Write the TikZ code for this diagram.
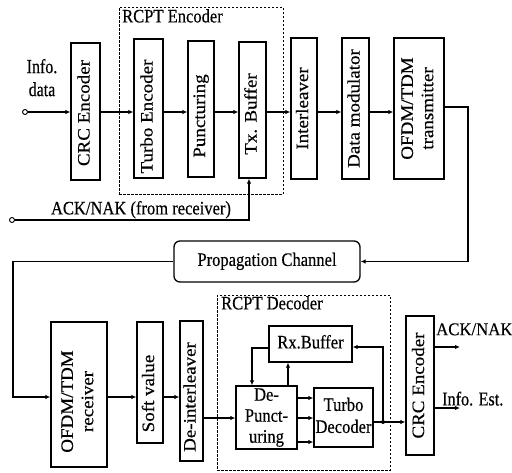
\documentclass[tikz,border=0pt]{standalone}
\usepackage{fontspec}
\setmainfont{Liberation Serif}[FakeBold=0.4]
\usetikzlibrary{arrows.meta,calc}

% condensed horizontal text, and vertical (rotated) text for the tall blocks
\newcommand{\hx}[1]{\scalebox{0.87}[1]{\begin{tabular}{@{}c@{}}#1\end{tabular}}}
\newcommand{\hs}[2]{\scalebox{#1}[1]{\begin{tabular}{@{}c@{}}#2\end{tabular}}}
% #1: extra room after the text, which moves the rotated label down by half of it
\newcommand{\vts}[2]{\scalebox{0.92}[1]{\rotatebox{90}{\begin{tabular}{@{}c@{}}#2\end{tabular}\hspace{#1}}}}
\newcommand{\vt}[1]{\vts{0pt}{#1}}

\tikzset{
  blk/.style={draw, line width=1.3pt, inner sep=0pt, align=center},
  grp/.style={draw, line width=0.9pt, dash pattern=on 2.5pt off 1.5pt, inner sep=0pt},
  link/.style={line width=1.1pt, -{Latex[length=5pt,width=4.5pt]}},
  wire/.style={line width=1.1pt},
  port/.style={circle, draw, line width=0.9pt, inner sep=0pt, minimum size=5pt, fill=white},
  lbl/.style={inner sep=0pt},
}

\begin{document}
\begin{tikzpicture}[x=1pt, y=-1pt, font=\fontsize{19}{22}\selectfont]
\useasboundingbox (0,0) rectangle (512,472);

% ---------------- transmitter chain ----------------
\node[grp, minimum width=164pt, minimum height=187pt] (encgrp) at (201,100.5) {};
\node[lbl, anchor=west] (enclbl) at (122,18) {\hx{RCPT Encoder}};

\node[blk, minimum width=29pt, minimum height=137pt] (crc)    at (85.5,111.5) {\vts{3pt}{CRC Encoder}};
\node[blk, minimum width=29pt, minimum height=139pt] (turbo)  at (148.5,108.5) {\vts{16pt}{Turbo Encoder}};
\node[blk, minimum width=26pt, minimum height=136pt] (punct)  at (201,109) {\vts{14pt}{Puncturing}};
\node[blk, minimum width=27pt, minimum height=136pt] (txbuf)  at (252.5,110) {\vts{8pt}{Tx. Buffer}};
\node[blk, minimum width=26pt, minimum height=141pt] (inter)  at (304,108.5) {\vt{Interleaver}};
\node[blk, minimum width=27pt, minimum height=141pt] (dmod)   at (355.5,108.5) {\vt{Data modulator}};
\node[blk, minimum width=50pt, minimum height=141pt] (ofdmtx) at (419,108.5) {\vt{OFDM/TDM\\transmitter}};

\node[lbl, font=\fontsize{20}{23}\selectfont] (infolbl) at (42,80) {\hs{0.8}{Info.\\data}};
\node[port] (in) at (25,112) {};
\coordinate (r1) at (0,112);
\draw[link] (in) -- (crc.west |- r1);
\draw[link] (crc.east |- r1) -- (turbo.west |- r1);
\draw[link] (turbo.east |- r1) -- (punct.west |- r1);
\draw[link] (punct.east |- r1) -- (txbuf.west |- r1);
\draw[link] (txbuf.east |- r1) -- (inter.west |- r1);
\draw[link] (inter.east |- r1) -- (dmod.west |- r1);
\draw[link] (dmod.east |- r1) -- (ofdmtx.west |- r1);

% feedback from the receiver into the transmit buffer
\node[port] (ackin) at (12,220) {};
\node[lbl] (acklbl) at (141,210) {\hx{ACK/NAK (from receiver)}};
\coordinate (a1) at (249,220);
\draw[link] (ackin) -- (a1) -- (txbuf.south -| a1);

% ---------------- channel ----------------
\node[blk, rounded corners=6pt, minimum width=186pt, minimum height=41pt] (prop) at (267,261.5) {\hx{Propagation Channel}};
\coordinate (c1) at (468,107);
\draw[link] (ofdmtx.east |- c1) -- (c1) |- (prop.east);

% ---------------- receiver chain ----------------
\node[blk, minimum width=56pt, minimum height=145pt] (ofdmrx) at (79,394.5) {\vts{14pt}{OFDM/TDM\\receiver}};
\node[blk, minimum width=26pt, minimum height=121pt] (soft)   at (150,382.5) {\vts{22pt}{Soft value}};
\node[blk, minimum width=23pt, minimum height=140pt] (deint)  at (191.5,391) {\vts{12pt}{De-interleaver}};

\coordinate (c2) at (13,397);
\draw[link] (prop.west) -| (c2) -- (ofdmrx.west |- c2);
\coordinate (r2) at (0,397);
\draw[link] (ofdmrx.east |- r2) -- (soft.west |- r2);
\draw[link] (soft.east |- r2) -- (deint.west |- r2);

\node[grp, minimum width=173pt, minimum height=175pt] (decgrp) at (303.5,382.5) {};
\node[lbl, anchor=west] (declbl) at (221,305) {\hx{RCPT Decoder}};

\node[blk, minimum width=83pt, minimum height=36pt] (rxbuf)    at (310.5,344) {\hx{Rx.Buffer}};
\node[blk, minimum width=61pt, minimum height=59pt, font=\fontsize{19}{21}\selectfont] (depunct) at (266.5,417.5) {\hx{De-\\Punct-\\uring}};
\node[blk, minimum width=59pt, minimum height=59pt] (turbodec) at (343.5,417.5) {\hx{Turbo\\Decoder}};
\node[blk, minimum width=28pt, minimum height=139pt] (crcdec)  at (420,385.5) {\vt{CRC Encoder}};

\coordinate (r3) at (0,418);
\coordinate (r4) at (0,398);
\coordinate (r5) at (0,442);
\draw[link] (deint.east |- r3) -- (depunct.west |- r3);
\draw[link] (depunct.east |- r4) -- (turbodec.west |- r4);
\draw[link] (depunct.east |- r3) -- (turbodec.west |- r3);
\draw[link] (depunct.east |- r5) -- (turbodec.west |- r5);

% buffer loop
\coordinate (k1) at (252,348);
\draw[link] (rxbuf.west |- k1) -| (depunct.north -| k1);
\coordinate (k2) at (288,0);
\draw[link] (depunct.north -| k2) -- (rxbuf.south -| k2);

\coordinate (j) at (383,422);
\coordinate (k3) at (0,347);
\draw[wire] (turbodec.east |- j) -- (j);
\draw[link] (j) -- (crcdec.west |- j);
\draw[link] (j) |- (rxbuf.east |- k3);
\fill (j) circle (2pt);

% outputs
\coordinate (o1) at (460,347);
\coordinate (o2) at (460,408);
\draw[link] (crcdec.east |- o1) -- (o1);
\draw[link] (crcdec.east |- o2) -- (o2);
\node[lbl, anchor=west, font=\fontsize{18}{21}\selectfont] (ackout) at (436,331) {\hs{0.93}{ACK/NAK}};
\node[lbl, anchor=west, font=\fontsize{19.5}{22}\selectfont] (infoest) at (442,401) {\hs{0.83}{Info. Est.}};
\end{tikzpicture}
\end{document}
